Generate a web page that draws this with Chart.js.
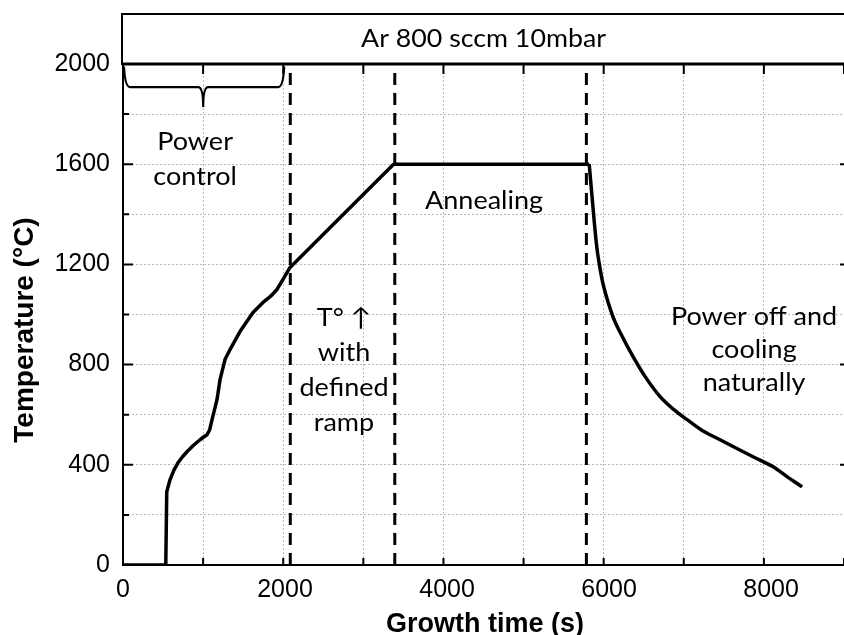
<!DOCTYPE html>
<html><head><meta charset="utf-8">
<script src="https://cdn.jsdelivr.net/npm/chart.js@4.4.1/dist/chart.umd.min.js"></script>
<style>html,body{margin:0;padding:0;background:#fff}canvas{display:block}</style>
</head><body>
<canvas id="chart" width="844" height="635"></canvas>
<script>
/* growth profile – temperature vs time */

const timeS=[0,500,528,540,580,630,679,735,790,870,951,1000,1037,1070,1099,1130,1160,1198,1259,1321,1444,1605,1728,1820,1901,1975,2062,
  3340,5755,5790,5820,5850,5880,5920,5960,6050,6150,6296,6450,6630,6800,6963,7150,7370,7578,7778,8025,8200,8383];
const tempC=[0,0,0,292,340,380,408,432,452,478,500,512,520,540,580,620,660,740,820,860,932,1008,1048,1072,1100,1140,1188,
  1600,1600,1470,1360,1265,1200,1130,1080,990,920,832,750,672,620,580,537,500,465,432,392,352,312];
const phaseEdges=[2065,3355,5720];
const xTicks=[0,2000,4000,6000,8000];
const yTicks=[0,400,800,1200,1600,2000];
const gasLabel='Ar 800 sccm 10mbar';
const xTitle='Growth time (s)';
const yTitle='Temperature (°C)';
const noteText=[['Power','control'],['Annealing'],['T° ↑','with','defined','ramp'],['Power off and','cooling','naturally']];

const TXT='Lato, "Open Sans", sans-serif';
const NUM='"Liberation Sans", Arial, sans-serif';

/* where the notes sit, in data units (x, first line y, line step) */
const notePos=[[890,1688,140],[4457,1452,0],[2728,988,140],[7790,992,132]];

function wideText(ctx,s,x,y,k){ctx.save();ctx.translate(x,y);ctx.scale(k,1);ctx.fillText(s,0,0);ctx.restore();}

const frame={id:'frame',afterDraw(c){
  const {ctx,chartArea:a,scales:{x:xs,y:ys}}=c;
  ctx.save();ctx.strokeStyle='#000';ctx.fillStyle='#000';

  /* gas box above plot */
  ctx.lineWidth=2;ctx.strokeRect(a.left-1,a.top-50,a.right-a.left+10,50);
  ctx.lineWidth=3;ctx.beginPath();ctx.moveTo(a.left-1,a.top);ctx.lineTo(a.right,a.top);ctx.stroke();
  ctx.font='25px '+TXT;ctx.textAlign='center';ctx.textBaseline='middle';
  wideText(ctx,gasLabel,(a.left+a.right)/2,a.top-25,1.07);

  /* inward ticks */
  ctx.lineWidth=2;ctx.beginPath();
  for(const t of xs.ticks){const px=xs.getPixelForValue(t.value);
    ctx.moveTo(px,a.bottom);ctx.lineTo(px,a.bottom-7);ctx.moveTo(px,a.top);ctx.lineTo(px,a.top+10);}
  for(const t of ys.ticks){const py=ys.getPixelForValue(t.value),big=yTicks.includes(t.value);
    ctx.moveTo(a.left,py);ctx.lineTo(a.left+(big?10:6),py);
    if(big){ctx.moveTo(a.right,py);ctx.lineTo(a.right-4,py);}}
  ctx.stroke();

  /* x tick labels */
  ctx.font='25px '+NUM;ctx.textBaseline='alphabetic';
  for(const v of xTicks)ctx.fillText(String(v),xs.getPixelForValue(v),a.bottom+32);

  /* brace over power control region */
  const x0=xs.getPixelForValue(0)+1,x1=xs.getPixelForValue(1990),xm=xs.getPixelForValue(990);
  const yT=ys.getPixelForValue(1990),yH=ys.getPixelForValue(1908),yP=ys.getPixelForValue(1828);
  ctx.lineWidth=2.2;ctx.beginPath();ctx.moveTo(x0,yT);
  ctx.quadraticCurveTo(x0+1,yH,x0+6,yH);ctx.lineTo(xm-5,yH);
  ctx.quadraticCurveTo(xm,yH,xm,yP);ctx.quadraticCurveTo(xm,yH,xm+5,yH);
  ctx.lineTo(x1-6,yH);ctx.quadraticCurveTo(x1-1,yH,x1,yT);ctx.stroke();

  /* notes */
  ctx.font='25px '+TXT;ctx.textBaseline='middle';
  noteText.forEach((lines,i)=>{const [nx,ny,step]=notePos[i];
    lines.forEach((s,k)=>wideText(ctx,s,xs.getPixelForValue(nx),ys.getPixelForValue(ny-k*step),1.08));});

  /* axis titles */
  ctx.font='bold 27px '+NUM;ctx.textBaseline='alphabetic';
  ctx.fillText(xTitle,485,632);
  ctx.font='bold 28px '+NUM;
  ctx.translate(33,330);ctx.rotate(-Math.PI/2);ctx.fillText(yTitle,0,0);
  ctx.restore();
}};

/* heating part straight between points, cooling part smoothed */
const pts=timeS.map((t,i)=>({x:t,y:tempC[i]}));
const coolFrom=timeS.indexOf(5755);

const ctx=document.getElementById('chart').getContext('2d');
new Chart(ctx,{type:'line',
  data:{datasets:[
    {data:pts.slice(0,coolFrom+1),borderColor:'#000',borderWidth:3.5,pointRadius:0,tension:0,borderJoinStyle:'round'},
    {data:pts.slice(coolFrom),borderColor:'#000',borderWidth:3.5,pointRadius:0,cubicInterpolationMode:'monotone',borderJoinStyle:'round'},
    ...phaseEdges.map(e=>({data:[{x:e,y:0},{x:e,y:1985}],borderColor:'#000',borderWidth:3,borderDash:[12,8],pointRadius:0}))
  ]},
  options:{responsive:false,animation:false,
    layout:{padding:{top:64,right:0,left:0,bottom:0}},
    plugins:{legend:{display:false},tooltip:{enabled:false}},
    scales:{
      x:{type:'linear',min:0,max:8900,afterFit:s=>{s.height=70;s.paddingLeft=0;s.paddingRight=0},
        grid:{color:'#b8b8b8',lineWidth:1,drawTicks:false},border:{color:'#000',width:2,dash:[2,2]},
        ticks:{display:false,stepSize:1000,includeBounds:false}},
      y:{min:0,max:2000,afterFit:s=>{s.width=123;s.paddingTop=0;s.paddingBottom=0},
        grid:{color:'#b8b8b8',lineWidth:1,drawTicks:false},border:{color:'#000',width:2,dash:[2,2]},
        ticks:{stepSize:200,autoSkip:false,padding:13,color:'#000',
          font:{family:NUM,size:25},callback:v=>yTicks.includes(v)?String(v):''}}
    }},
  plugins:[frame]});
</script>
</body></html>
